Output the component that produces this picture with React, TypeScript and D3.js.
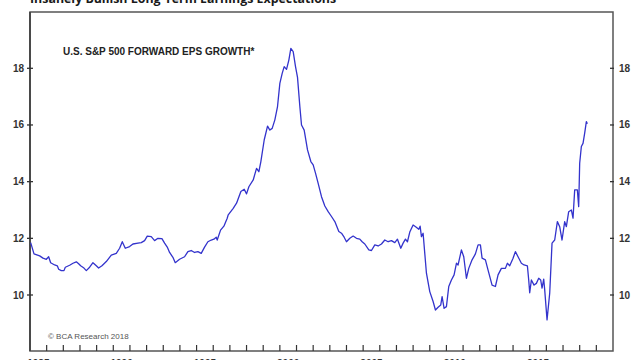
import React from "react";
import * as d3 from "d3";

const title = "Insanely Bullish Long-Term Earnings Expectations";
const seriesLabel = "U.S. S&P 500 FORWARD EPS GROWTH*";
const credit = "© BCA Research 2018";

const yTicks = [10, 12, 14, 16, 18];
const xLabelYears = [1985, 1990, 1995, 2000, 2005, 2010, 2015];

const dates = [
  1985.04, 1985.24, 1985.58, 1985.78, 1985.98, 1986.12, 1986.24, 1986.48, 1986.64, 1986.72,
  1986.88, 1987.04, 1987.12, 1987.38, 1987.58, 1987.78, 1987.92, 1988.04, 1988.24, 1988.38,
  1988.58, 1988.78, 1988.98, 1989.12, 1989.32, 1989.58, 1989.88, 1990.18, 1990.38, 1990.54,
  1990.72, 1990.98, 1991.18, 1991.48, 1991.68, 1991.88, 1992.04, 1992.28, 1992.48, 1992.68,
  1992.92, 1993.08, 1993.24, 1993.38, 1993.58, 1993.72, 1993.98, 1994.28, 1994.48, 1994.68,
  1994.88, 1995.08, 1995.28, 1995.48, 1995.68, 1995.88, 1996.04, 1996.18, 1996.24, 1996.44,
  1996.64, 1996.84, 1996.9, 1997.2, 1997.4, 1997.66, 1997.86, 1998.0, 1998.14, 1998.4,
  1998.6, 1998.74, 1998.86, 1999.06, 1999.26, 1999.4, 1999.54, 1999.7, 1999.86, 2000.0,
  2000.14, 2000.26, 2000.4, 2000.54, 2000.66, 2000.8, 2000.94, 2001.06, 2001.2, 2001.3,
  2001.46, 2001.66, 2001.86, 2002.0, 2002.14, 2002.3, 2002.5, 2002.7, 2002.9, 2003.1,
  2003.3, 2003.54, 2003.7, 2003.86, 2004.0, 2004.2, 2004.4, 2004.6, 2004.8, 2004.94,
  2005.1, 2005.34, 2005.5, 2005.7, 2005.9, 2006.1, 2006.3, 2006.5, 2006.7, 2006.9,
  2007.06, 2007.26, 2007.4, 2007.54, 2007.66, 2007.8, 2008.0, 2008.15, 2008.34, 2008.42,
  2008.5, 2008.6, 2008.7, 2008.8, 2009.0, 2009.2, 2009.34, 2009.5, 2009.66, 2009.74,
  2009.86, 2010.0, 2010.14, 2010.3, 2010.46, 2010.6, 2010.7, 2010.9, 2011.04, 2011.2,
  2011.34, 2011.54, 2011.74, 2011.9, 2012.04, 2012.14, 2012.34, 2012.5, 2012.74, 2012.94,
  2013.1, 2013.3, 2013.54, 2013.66, 2013.8, 2014.0, 2014.14, 2014.3, 2014.5, 2014.66,
  2014.86, 2014.94, 2015.0, 2015.1, 2015.26, 2015.4, 2015.54, 2015.66, 2015.74, 2015.84,
  2015.9, 2016.04, 2016.2, 2016.34, 2016.5, 2016.66, 2016.8, 2016.94, 2017.1, 2017.2,
  2017.34, 2017.5, 2017.6, 2017.7, 2017.86, 2017.94, 2018.0, 2018.1, 2018.2, 2018.3,
  2018.4, 2018.46,
];

const growth = [
  11.85, 11.45, 11.38, 11.3, 11.26, 11.35, 11.14, 11.06, 11.03, 10.91,
  10.86, 10.86, 10.98, 11.05, 11.12, 11.17, 11.1, 11.03, 10.95, 10.86,
  10.98, 11.14, 11.03, 10.95, 11.03, 11.18, 11.41, 11.47, 11.65, 11.88,
  11.65, 11.71, 11.8, 11.83, 11.85, 11.92, 12.08, 12.06, 11.92, 12.0,
  11.99, 11.83, 11.69, 11.5, 11.33, 11.14, 11.26, 11.35, 11.53, 11.57,
  11.5, 11.53, 11.47, 11.69, 11.88, 11.94, 11.97, 12.04, 11.94, 12.29,
  12.43, 12.71, 12.83, 13.06, 13.24, 13.65, 13.73, 13.57, 13.82, 14.06,
  14.47, 14.35, 14.71, 15.47, 15.96, 15.82, 15.88, 16.18, 16.65, 17.47,
  17.82, 18.06, 17.96, 18.29, 18.7, 18.59, 18.06, 17.68, 16.65, 16.0,
  15.82, 15.12, 14.71, 14.59, 14.3, 13.94, 13.47, 13.14, 12.94, 12.77,
  12.59, 12.24, 12.18, 12.04, 11.88, 12.0, 12.08, 12.0, 11.97, 11.88,
  11.8, 11.59, 11.57, 11.77, 11.73, 11.8, 11.94, 11.88, 11.92, 11.85,
  11.97, 11.65, 11.83, 11.97, 11.88, 12.22, 12.47, 12.41, 12.32, 12.43,
  12.06, 12.18, 11.47, 10.77, 10.12, 9.77, 9.47, 9.57, 9.65, 9.94,
  9.53, 9.59, 10.3, 10.53, 10.71, 11.12, 11.06, 11.59, 11.35, 10.59,
  10.94, 11.24, 11.45, 11.77, 11.77, 11.3, 11.24, 10.88, 10.35, 10.3,
  10.71, 10.94, 10.94, 11.12, 11.03, 11.3, 11.53, 11.35, 11.12, 11.06,
  11.03, 10.53, 10.08, 10.53, 10.35, 10.41, 10.59, 10.53, 10.24, 10.56,
  10.18, 9.12, 10.06, 11.83, 11.94, 12.59, 12.41, 11.94, 12.59, 12.41,
  12.94, 13.0, 12.71, 13.71, 13.71, 13.12, 14.65, 15.24, 15.35, 15.71,
  16.12, 16.04,
];

const W = 640;
const H = 360;
const left = 30;
const right = 613;
const top = 12;
const bottom = 351;

export default function App() {
  const x = d3.scaleLinear().domain([1985, 2020]).range([left, right]);
  const y = d3.scaleLinear().domain([10, 18]).range([295, 68.3]);
  const points: [number, number][] = dates.map((d, i) => [d, growth[i]]);
  const line = d3
    .line<[number, number]>()
    .x((d) => x(d[0]))
    .y((d) => y(d[1]))
    .curve(d3.curveLinear);
  const yearTicks = d3.range(1986, 2020);
  const labelFont = "'Liberation Sans', Arial, sans-serif";

  return (
    <svg
      width={W}
      height={H}
      style={{ position: "absolute", left: 0, top: 0, background: "#fff" }}
    >
      <rect x={0} y={0} width={W} height={H} fill="#fff" />
      <text
        x={30}
        y={3}
        fontFamily="'Open Sans', 'DejaVu Sans', sans-serif"
        fontWeight={700}
        fontSize={12.4}
        fill="#1a1a1a"
      >
        {title}
      </text>
      <rect
        x={left}
        y={top}
        width={right - left}
        height={bottom - top}
        fill="none"
        stroke="#555"
        strokeWidth={1.5}
      />
      <line x1={left} x2={left} y1={top} y2={bottom} stroke="#444" strokeWidth={1.8} />
      {yTicks.map((t) => (
        <g key={t}>
          <line x1={left - 3} x2={left + 3} y1={y(t)} y2={y(t)} stroke="#333" strokeWidth={1.3} />
          <line x1={right - 3} x2={right + 1} y1={y(t)} y2={y(t)} stroke="#333" strokeWidth={1.3} />
          <text
            x={left - 6}
            y={y(t) + 3.5}
            textAnchor="end"
            fontFamily={labelFont}
            fontWeight={700}
            fontSize={10}
            fill="#333"
          >
            {t}
          </text>
          <text
            x={right + 6}
            y={y(t) + 3.5}
            textAnchor="start"
            fontFamily={labelFont}
            fontWeight={700}
            fontSize={10}
            fill="#333"
          >
            {t}
          </text>
        </g>
      ))}
      {yearTicks.map((yr) => (
        <line
          key={yr}
          x1={x(yr)}
          x2={x(yr)}
          y1={bottom}
          y2={bottom - 6}
          stroke="#333"
          strokeWidth={1.2}
        />
      ))}
      {xLabelYears.map((yr) => (
        <text
          key={yr}
          x={x(yr + 0.5)}
          y={367}
          textAnchor="middle"
          fontFamily={labelFont}
          fontWeight={700}
          fontSize={10}
          fill="#333"
        >
          {yr}
        </text>
      ))}
      <text
        x={63}
        y={55}
        fontFamily={labelFont}
        fontWeight={700}
        fontSize={10}
        fill="#222"
      >
        {seriesLabel}
      </text>
      <text x={48} y={338.5} fontFamily={labelFont} fontSize={8} fill="#555">
        {credit}
      </text>
      <path d={line(points) || ""} fill="none" stroke="#3333cc" strokeWidth={1.3} strokeLinejoin="round" />
    </svg>
  );
}
